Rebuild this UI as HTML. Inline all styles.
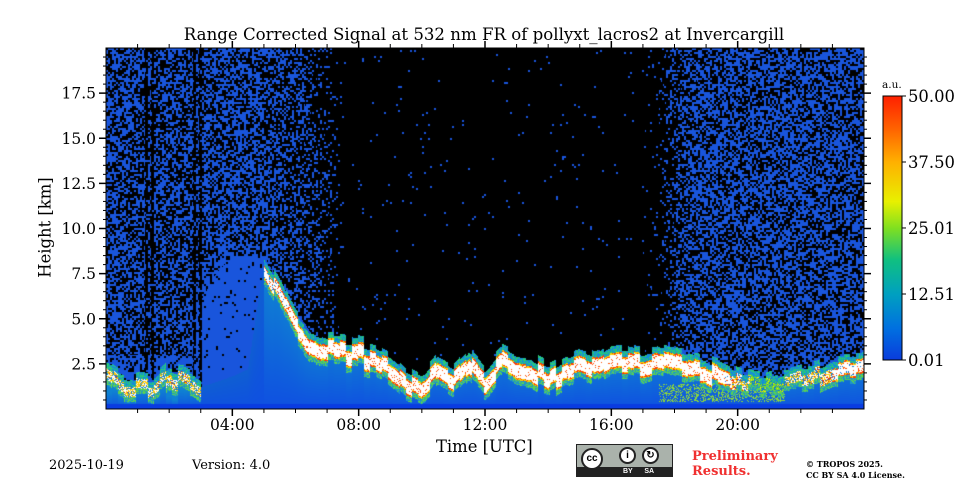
<!DOCTYPE html>
<html><head><meta charset="utf-8"><style>
body{margin:0;width:960px;height:480px;background:#fff;overflow:hidden;font-family:"DejaVu Serif","Liberation Serif",serif;position:relative}
.t{position:absolute;white-space:nowrap;color:#000}
</style></head><body>
<div class="t" style="left:0;width:968px;text-align:center;top:25px;font-size:16.6px">Range Corrected Signal at 532 nm FR of pollyxt_lacros2 at Invercargill</div>
<canvas id="hm" width="758" height="361" style="position:absolute;left:106px;top:48px"></canvas>
<svg id="ax" width="960" height="480" style="position:absolute;left:0;top:0"></svg>
<div class="t" style="left:436px;top:437px;font-size:16.4px">Time [UTC]</div>
<div class="t" style="left:-8px;top:218px;font-size:16.4px;transform:rotate(-90deg);width:106px;text-align:center">Height [km]</div>
<div class="t" style="left:882px;top:79px;font-size:10.5px">a.u.</div>
<div class="t" style="left:49px;top:458px;font-size:13px">2025-10-19</div>
<div class="t" style="left:192px;top:458px;font-size:13px">Version: 4.0</div>
<div style="position:absolute;left:576px;top:444px;width:97px;height:33px;background:#aab2ab;border:1px solid #222;box-sizing:border-box">
 <div style="position:absolute;left:0;right:0;bottom:0;height:9px;background:#222;color:#fff;font:bold 7px 'Liberation Sans',sans-serif;padding-left:46px;line-height:9px">BY&nbsp;&nbsp;&nbsp;&nbsp;&nbsp;&nbsp;SA</div>
 <div style="position:absolute;left:4px;top:3px;width:22px;height:22px;border-radius:50%;background:#fff;border:2px solid #222;box-sizing:border-box;font:bold 10px 'Liberation Sans',sans-serif;text-align:center;line-height:18px">cc</div>
 <div style="position:absolute;left:42px;top:2px;width:17px;height:17px;border-radius:50%;background:#fff;border:2px solid #222;box-sizing:border-box;font:bold 10px sans-serif;text-align:center;line-height:13px">i</div>
 <div style="position:absolute;left:65px;top:2px;width:17px;height:17px;border-radius:50%;background:#fff;border:2px solid #222;box-sizing:border-box;font:bold 10px sans-serif;text-align:center;line-height:13px">↻</div>
</div>
<div class="t" style="left:692px;top:449px;font-size:13px;font-weight:bold;color:#f03030;line-height:15px">Preliminary<br>Results.</div>
<div class="t" style="left:806px;top:459px;font-size:8px;font-weight:bold;line-height:11px">© TROPOS 2025.<br>CC BY SA 4.0 License.</div>
<script>
// data (per 30 min, hours 0..24)
const times=[0,0.5,1,1.5,2,2.5,3,3.5,4,4.5,5,5.5,6,6.5,7,7.5,8,8.5,9,9.5,10,10.5,11,11.5,12,12.5,13,13.5,14,14.5,15,15.5,16,16.5,17,17.5,18,18.5,19,19.5,20,20.5,21,21.5,22,22.5,23,23.5,24];
const layerTop=[2.2,1.6,1.4,1.3,2.0,1.8,1.3,0,0,0,8.2,6.8,5.0,3.9,3.6,3.5,3.4,3.2,2.8,2.0,1.5,2.5,2.0,3.0,2.0,3.0,2.5,2.5,2.0,2.5,2.8,2.5,3.0,3.0,2.8,3.0,2.8,2.6,2.5,2.1,1.7,1.5,1.6,1.8,1.9,2.0,2.4,2.5,2.5];
const layerIntensity=[0.65,0.6,0.55,0.55,0.6,0.6,0.55,0,0,0,0.8,0.9,1,1,1,1,1,1,1,1,1,1,1,1,1,1,1,1,1,1,1,1,1,1,1,1,1,1,1,1,0.7,0.45,0.45,0.5,0.6,0.7,0.8,0.9,0.9];
const signalTop=[0.8,0.8,0.7,0.7,0.8,0.8,1.2,1.5,1.8,2.2,8.0,6.8,5.0,3.9,3.6,3.5,3.4,3.2,2.8,2.0,1.5,2.5,2.0,3.0,2.0,3.0,2.5,2.5,2.0,2.5,2.8,2.5,3.0,3.0,2.8,3.0,2.8,2.6,2.5,2.1,1.7,1.5,1.6,1.8,1.9,2.0,2.4,2.5,2.5];
const noiseDensity=[0.55,0.55,0.5,0.5,0.5,0.5,0.55,0.55,0.55,0.55,0.5,0.45,0.4,0.3,0.15,0.01,0.01,0.01,0.01,0.01,0.01,0.01,0.01,0.01,0.01,0.01,0.01,0.01,0.01,0.01,0.01,0.01,0.01,0.01,0.01,0.05,0.3,0.5,0.55,0.55,0.55,0.55,0.55,0.55,0.55,0.55,0.55,0.55,0.55];
const lowHazeTop=[3,3,3,3,3,3,6,7.5,8.5,8.5,8.5,7,5.5,4.2,3.6,0,0,0,0,0,0,0,0,0,0,0,0,0,0,0,0,0,0,0,0,0,0,0,0,0,0,0,0,0,0,0,0,0,0];
const xTicks=[4,8,12,16,20], xTickLabels=["04:00","08:00","12:00","16:00","20:00"];
const yTicks=[2.5,5,7.5,10,12.5,15,17.5], yTickLabels=["2.5","5.0","7.5","10.0","12.5","15.0","17.5"];
const cbTicks=[0.01,12.51,25.01,37.5,50], cbTickLabels=["0.01","12.51","25.01","37.50","50.00"];

const L=106,R=864,T=48,B=409,HMAX=20;
const xs=t=>L+t/24*(R-L), ys=h=>B-h/HMAX*(B-T);
function seg(t){return Math.min(times.length-2,Math.floor(t/0.5));}
function interp(arr,t){const i=seg(t);const f=(t-times[i])/0.5;return arr[i]*(1-f)+arr[i+1]*f;}
function hash(a,b){let n=(a*374761393+b*668265263)|0;n=(n^(n>>>13))*1274126177|0;return ((n^(n>>>16))>>>0)/4294967295;}

const cv=document.getElementById('hm'),ctx=cv.getContext('2d');
const img=ctx.createImageData(cv.width,cv.height);
function put(x,y,c){const k=(y*cv.width+x)*4;img.data[k]=c[0];img.data[k+1]=c[1];img.data[k+2]=c[2];img.data[k+3]=255;}
for(let px=0;px<cv.width;px++){
  const t=(px+0.5)/(R-L)*24;
  const i=seg(t);
  const hasBand=layerTop[i]>0&&layerTop[i+1]>0;
  const g6=Math.floor(px/6);
  const jit=(hash(g6,7)-0.5)*0.7;
  const bt=interp(layerTop,t)+(hasBand?jit:0), bi=interp(layerIntensity,t), st=interp(signalTop,t)+(hasBand?jit:0), nd=interp(noiseDensity,t), hz=interp(lowHazeTop,t);
  const bw=0.8*bi+0.1;
  const stripe=t<3.2&&hash(Math.floor(px/3),33)<0.2;
  for(let py=0;py<cv.height;py++){
    const h=(B-T-py-0.5)/(B-T)*HMAX;
    const hv=hash(px,py);
    const hn=hash(Math.floor(px/2),Math.floor(py/2)+999);
    let c=[0,0,0];
    if(h<0.25) c=[10,60,225];
    else if(hasBand && h<=bt && h>bt-bw && hv<0.35+bi*0.65){
      const r=(bt-h)/bw;
      if(bi>0.8) c = (r<0.12||r>0.88)?(hv<0.5?[255,60,0]:[255,210,0]):(hv<0.08?[255,80,0]:[255,255,255]);
      else if(bi>0.5) c = hv<0.35?[255,200,0]:(hv<0.7?[255,255,255]:[230,40,0]);
      else c = hv<0.5?[120,220,40]:[255,230,0];
    } else if(hasBand && h>bt && h<bt+0.35){
      c=hv<0.5?[40,200,120]:[20,140,220];
    } else if(hasBand && h<=bt-bw && h>bt-bw-0.3){
      c=hv<0.5?[90,210,80]:[30,150,200];
    } else if(h<Math.max(st,hasBand?bt:0)){
      const g=Math.min(1,h/Math.max(st,0.1));
      c=[15,80+Math.round(50*g*(hasBand?1:0.3)),225-Math.round(15*g)];
      if(t>17.5&&t<21.5&&h<1.4&&h>0.4&&hv<0.35) c=[140,215,60];
    } else {
      let d = nd;
      if(h<hz) d = (t>3&&t<6.5)? 0.95 : Math.min(0.85,nd*1.5);
      if(stripe&&h>0.8) d*=0.2;
      if(hn<d) c=[25,85,220];
    }
    put(px,py,c);
  }
}
ctx.putImageData(img,0,0);

const svg=document.getElementById('ax'),NS='http://www.w3.org/2000/svg';
function el(tag,at,parent){const e=document.createElementNS(NS,tag);for(const k in at)e.setAttribute(k,at[k]);(parent||svg).appendChild(e);return e;}
const frame=el('rect',{x:L,y:T,width:R-L,height:B-T,fill:'none',stroke:'#000','stroke-width':1});


for(let hh=1;hh<24;hh++){
  const x=xs(hh), major=hh%4===0, len=major?7:4;
  el('line',{x1:x,x2:x,y1:B,y2:B+len,stroke:'#000','stroke-width':major?1.5:1});
  el('line',{x1:x,x2:x,y1:T,y2:T-len,stroke:'#000','stroke-width':major?1.5:1});
}
xTicks.forEach((v,i)=>{const tx=el('text',{x:xs(v),y:B+21,'text-anchor':'middle','font-size':15.5,'font-family':'DejaVu Serif, serif'});tx.textContent=xTickLabels[i];

});
for(let k=1;k<=39;k++){const h=k*0.5;const y=ys(h);const major=k%5===0;const len=major?7:3;
  el('line',{x1:L,x2:L-len,y1:y,y2:y,stroke:'#000','stroke-width':major?1.5:1});
  el('line',{x1:R,x2:R+len,y1:y,y2:y,stroke:'#000','stroke-width':major?1.5:1});}
yTicks.forEach((v,i)=>{const tx=el('text',{x:L-10,y:ys(v)+5.5,'text-anchor':'end','font-size':15.5,'font-family':'DejaVu Serif, serif'});tx.textContent=yTickLabels[i];

});
const defs=el('defs',{});const gr=el('linearGradient',{id:'jet',x1:0,y1:1,x2:0,y2:0},defs);
[[0,'#0a3cdc'],[0.12,'#0070e0'],[0.25,'#00a0c0'],[0.38,'#10c080'],[0.5,'#80e020'],[0.6,'#e8f000'],[0.75,'#ffb000'],[0.88,'#ff6000'],[1,'#ff2000']].forEach(s=>el('stop',{offset:s[0],'stop-color':s[1]},gr));
const cbT=96,cbB=360;const cb=el('rect',{x:883,y:cbT,width:19,height:cbB-cbT,fill:'url(#jet)',stroke:'#000','stroke-width':1});


cbTicks.forEach((v,i)=>{const y=cbB-(v-0.01)/(50-0.01)*(cbB-cbT);el('line',{x1:902,x2:906,y1:y,y2:y,stroke:'#000'});
const tx=el('text',{x:908,y:y+6,'font-size':16.4,'font-family':'DejaVu Serif, serif'});tx.textContent=cbTickLabels[i];

});
</script>
</body></html>
